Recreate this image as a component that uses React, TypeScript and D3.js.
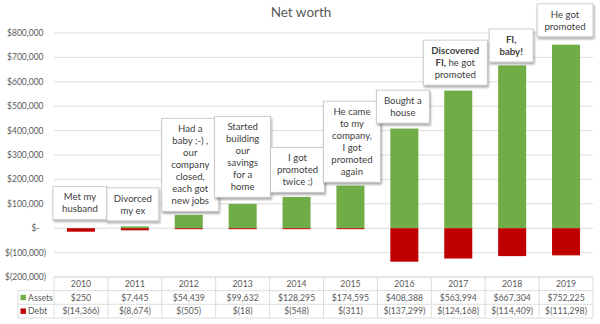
import React from "react";
import * as d3 from "d3";

const years = ["2010", "2011", "2012", "2013", "2014", "2015", "2016", "2017", "2018", "2019"];
const assets = [250, 7445, 54439, 99632, 128295, 174595, 408388, 563994, 667304, 752225];
const debt = [-14366, -8674, -505, -18, -548, -311, -137299, -124168, -114409, -111298];
const yTicks = [-200000, -100000, 0, 100000, 200000, 300000, 400000, 500000, 600000, 700000, 800000];
const notes: string[][] = [
  ["Met my", "husband"],
  ["Divorced", "my ex"],
  ["Had a", "baby ;-) ,", "our", "company", "closed,", "each got", "new jobs"],
  ["Started", "building", "our", "savings", "for a", "home"],
  ["I got", "promoted", "twice :)"],
  ["He came", "to my", "company,", "I got", "promoted", "again"],
  ["Bought a", "house"],
  ["**Discovered**", "**FI,** he got", "promoted"],
  ["**FI,**", "**baby!**"],
  ["He got", "promoted"],
];

// layout for callout boxes (width, x shift from band centre, gap above bar top)
const boxW = [54, 52, 57, 56, 54, 57, 53, 64, 44, 56];
const boxDx = [-1, -2, 1.5, 0, 1, 1.5, -1.5, -3, -1, -1];
const boxGap = [8.5, 5.5, 3.6, 6.6, 4.6, 3.4, 5.4, 5.5, 3.4, 7.8];

const W = 600;
const H = 324;
const FONT = "Lato, 'Open Sans', sans-serif";
const TXT = "#595959";
const GRID = "#d9d9d9";
const GREEN = "#70ad47";
const RED = "#c00000";

const fmtNum = d3.format(",");
const money = (v: number) => (v < 0 ? `$(${fmtNum(-v)})` : `$${fmtNum(v)}`);
const tickLabel = (v: number) => (v === 0 ? "$-" : money(v));

function parseLine(line: string) {
  const parts: { t: string; b: boolean }[] = [];
  const re = /\*\*(.+?)\*\*/g;
  let last = 0;
  let m: RegExpExecArray | null;
  while ((m = re.exec(line))) {
    if (m.index > last) parts.push({ t: line.slice(last, m.index), b: false });
    parts.push({ t: m[1], b: true });
    last = m.index + m[0].length;
  }
  if (last < line.length) parts.push({ t: line.slice(last), b: false });
  return parts;
}

export default function App() {
  const left = 54;
  const right = 593;
  const x = d3.scaleBand<string>().domain(years).range([left, right]).paddingInner(0.48).paddingOuter(0.24);
  const step = x.step();
  const y = d3.scaleLinear().domain([-200000, 800000]).range([277, 33]);
  const rowY = [277, 290.7, 304.3, 318];
  const lineH = 12;

  return (
    <svg width={W} height={H} style={{ position: "absolute", left: 0, top: 0, background: "#fff" }} fontFamily={FONT}>
      <defs>
        <filter id="sh" x="-20%" y="-20%" width="150%" height="150%">
          <feGaussianBlur in="SourceAlpha" stdDeviation="1.2" />
          <feOffset dx="1.2" dy="1.5" result="b" />
          <feComponentTransfer>
            <feFuncA type="linear" slope="0.35" />
          </feComponentTransfer>
          <feMerge>
            <feMergeNode />
            <feMergeNode in="SourceGraphic" />
          </feMerge>
        </filter>
      </defs>
      <rect width={W} height={H} fill="#fff" />
      <text x={301} y={17} textAnchor="middle" fontSize={13.5} fill={TXT}>
        Net worth
      </text>

      {yTicks.map((t) => (
        <g key={t}>
          <line x1={left} x2={right} y1={y(t)} y2={y(t)} stroke={GRID} strokeWidth={0.9} />
          <text
            x={t < 0 ? 46 : t === 0 ? 39.5 : 43.5}
            y={y(t)}
            dy="0.35em"
            textAnchor="end"
            fontSize={8.5}
            fill={TXT}
          >
            {tickLabel(t)}
          </text>
        </g>
      ))}

      {years.map((yr, i) => {
        const x0 = x(yr)!;
        const bw = x.bandwidth();
        const aTop = y(assets[i]);
        const dBot = y(debt[i]);
        return (
          <g key={yr}>
            <rect x={x0} y={aTop} width={bw} height={y(0) - aTop} fill={GREEN} />
            <rect x={x0} y={y(0)} width={bw} height={Math.max(1, dBot - y(0))} fill={RED} />
          </g>
        );
      })}

      {/* callouts */}
      {years.map((yr, i) => {
        const lines = notes[i];
        const h = lines.length * lineH + 9;
        const cx = x(yr)! + x.bandwidth() / 2 + boxDx[i];
        const bottom = y(assets[i]) - boxGap[i];
        const top = bottom - h;
        const w = boxW[i];
        return (
          <g key={"n" + yr}>
            <rect
              x={cx - w / 2}
              y={top}
              width={w}
              height={h}
              fill="#fff"
              stroke="#bfbfbf"
              strokeWidth={0.8}
              filter="url(#sh)"
            />
            {lines.map((ln, j) => (
              <text
                key={j}
                x={cx}
                y={top + 4.5 + lineH / 2 + j * lineH}
                dy="0.35em"
                textAnchor="middle"
                fontSize={9.6}
                fill="#404040"
              >
                {parseLine(ln).map((p, k) => (
                  <tspan key={k} fontWeight={p.b ? "bold" : "normal"}>
                    {p.t}
                  </tspan>
                ))}
              </text>
            ))}
          </g>
        );
      })}

      {/* data table */}
      <g stroke={GRID} strokeWidth={0.9} fill="none">
        <line x1={left} x2={right} y1={rowY[0]} y2={rowY[0]} />
        <line x1={18} x2={right} y1={rowY[1]} y2={rowY[1]} />
        <line x1={18} x2={right} y1={rowY[2]} y2={rowY[2]} />
        <line x1={18} x2={right} y1={rowY[3]} y2={rowY[3]} />
        <line x1={18} x2={18} y1={rowY[1]} y2={rowY[3]} />
        {d3.range(years.length + 1).map((k) => (
          <line key={k} x1={left + k * step} x2={left + k * step} y1={rowY[0]} y2={rowY[3]} />
        ))}
      </g>
      {years.map((yr, i) => {
        const cx = left + (i + 0.5) * step;
        return (
          <g key={"t" + yr} fontSize={8.7} fill={TXT} textAnchor="middle">
            <text x={cx} y={(rowY[0] + rowY[1]) / 2} dy="0.35em">
              {yr}
            </text>
            <text x={cx} y={(rowY[1] + rowY[2]) / 2} dy="0.35em">
              {money(assets[i])}
            </text>
            <text x={cx} y={(rowY[2] + rowY[3]) / 2} dy="0.35em">
              {money(debt[i])}
            </text>
          </g>
        );
      })}
      <rect x={20.5} y={(rowY[1] + rowY[2]) / 2 - 2.7} width={5.4} height={5.4} fill={GREEN} />
      <rect x={20.5} y={(rowY[2] + rowY[3]) / 2 - 2.7} width={5.4} height={5.4} fill={RED} />
      <text x={28} y={(rowY[1] + rowY[2]) / 2} dy="0.35em" fontSize={8.7} fill={TXT}>
        Assets
      </text>
      <text x={28} y={(rowY[2] + rowY[3]) / 2} dy="0.35em" fontSize={8.7} fill={TXT}>
        Debt
      </text>
    </svg>
  );
}
